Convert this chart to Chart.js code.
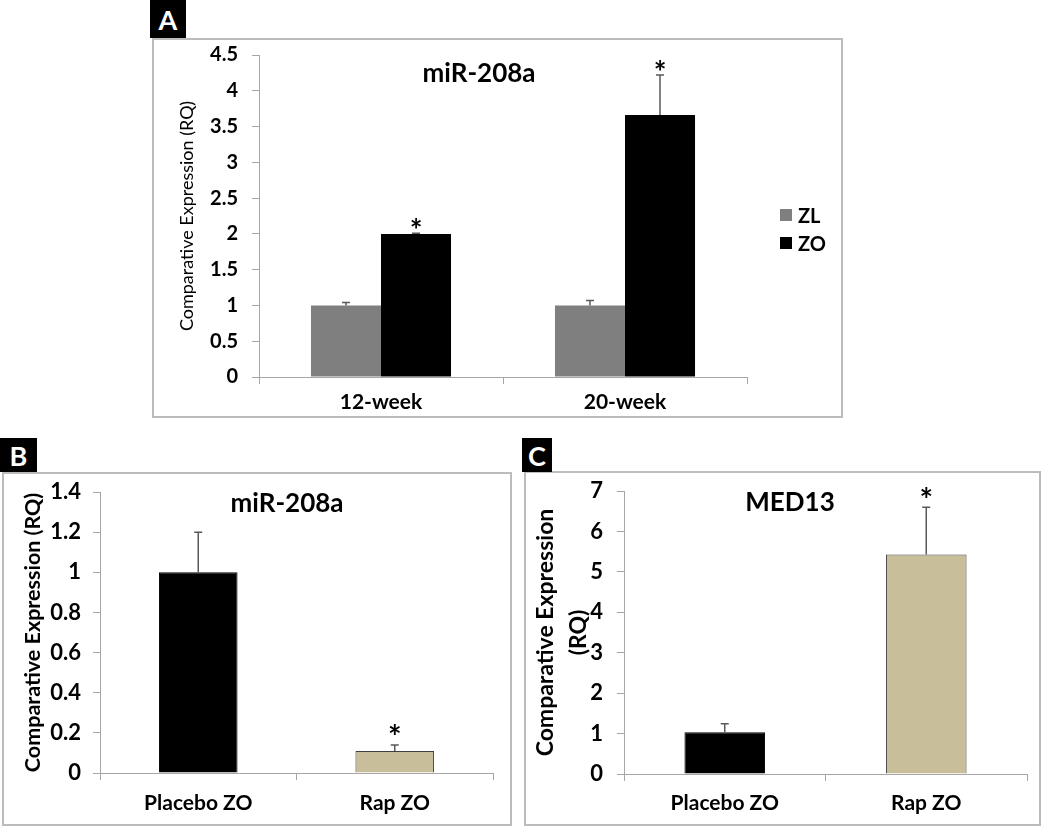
<!DOCTYPE html>
<html>
<head>
<meta charset="utf-8">
<script src="https://cdn.jsdelivr.net/npm/chart.js@4.4.0/dist/chart.umd.min.js"></script>
<style>
body { margin: 0; background: #fff; font-family: Lato, sans-serif; }
.wrap { position: relative; width: 1050px; height: 830px; overflow: hidden; }
.frame { position: absolute; border: 2px solid #bcbcbc; box-sizing: border-box; }
.tag { position: absolute; background: #000; color: #fff; font-weight: bold; font-size: 27px; display: flex; align-items: center; justify-content: center; }
.title { position: absolute; font-weight: bold; font-size: 26px; transform: translate(-50%, -50%); white-space: nowrap; }
canvas { position: absolute; }
.graphLegendBox { position: absolute; }
.graphLegendBox ul { list-style: none; margin: 0; padding: 0; }
.graphLegendBox li { height: 28px; font-weight: bold; font-size: 20px; display: flex; align-items: center; }
.graphLegendBox li span { display: inline-block; width: 12px; height: 12px; margin-right: 6px; }
</style>
</head>
<body>
<div class="wrap">
	<div class="frame" style="left:152px;top:38px;width:691px;height:380px;"></div>
	<div class="frame" style="left:2px;top:472px;width:510px;height:354px;"></div>
	<div class="frame" style="left:524px;top:471px;width:517px;height:355px;"></div>

	<canvas id="chartA" width="691" height="380" style="left:152px;top:38px;"></canvas>
	<canvas id="chartB" width="511" height="353" style="left:2px;top:472px;"></canvas>
	<canvas id="chartC" width="516" height="354" style="left:525px;top:471px;"></canvas>

	<div class="tag" style="left:150px;top:0;width:36px;height:38px;">A</div>
	<div class="tag" style="left:0;top:438px;width:37px;height:34px;">B</div>
	<div class="tag" style="left:522px;top:438px;width:30px;height:34px;">C</div>

	<div class="title" style="left:479px;top:72px;">miR-208a</div>
	<div class="title" style="left:287px;top:502px;">miR-208a</div>
	<div class="title" style="left:790px;top:501px;">MED13</div>

	<div id="legendA" class="graphLegendBox" style="left:780px;top:201px;"></div>
</div>
<script>
// panel A
var weekLabels = ['12-week', '20-week'];
var zlValues = [1.0, 1.0];
var zlErrors = [0.04, 0.07];
var zoValues = [2.0, 3.66];
var zoErrors = [0.01, 0.56];
var zlStars = [false, false];
var zoStars = [true, true];
var ticksA = { min: 0, max: 4.5, step: 0.5 };

// panel B / C
var groupLabels = ['Placebo ZO', 'Rap ZO'];
var mirValues = [1.0, 0.11];
var mirErrors = [0.2, 0.03];
var mirStars = [false, true];
var ticksB = { min: 0, max: 1.4, step: 0.2 };

var medValues = [1.03, 5.43];
var medErrors = [0.21, 1.17];
var medStars = [false, true];
var ticksC = { min: 0, max: 7, step: 1 };

var axisColor = '#a6a6a6';
var errColor = '#595959';
var tanColor = '#c8be9a';

var errorBarPlugin = {
	id: 'errorBars',
	afterDatasetsDraw: function(chart, args, opts) {
		var ctx = chart.ctx;
		var yScale = chart.scales.y;
		var size = opts.starSize || 30;
		chart.data.datasets.forEach(function(ds, di) {
			var meta = chart.getDatasetMeta(di);
			meta.data.forEach(function(bar, i) {
				var top = yScale.getPixelForValue(ds.data[i] + ds.errors[i]);
				ctx.save();
				ctx.strokeStyle = errColor;
				ctx.lineWidth = 1.5;
				ctx.beginPath();
				ctx.moveTo(bar.x, bar.y);
				ctx.lineTo(bar.x, top);
				ctx.moveTo(bar.x - 4, top);
				ctx.lineTo(bar.x + 4, top);
				ctx.stroke();
				if (ds.stars[i]) {
					ctx.fillStyle = '#000';
					ctx.font = 'bold ' + size + 'px Lato';
					ctx.textAlign = 'center';
					ctx.textBaseline = 'alphabetic';
					// asterisk glyph sits high in the em box
					ctx.fillText('*', bar.x, top - (opts.starGap || 10) + size * 0.56);
				}
				ctx.restore();
			});
		});
	}
};

var tickFormat = function(v) {
	return String(+v.toFixed(2));
};

var barChartFn = function(target, o) {
	return new Chart(document.getElementById(target), {
		type: 'bar',
		data: { labels: o.labels, datasets: o.datasets },
		plugins: [errorBarPlugin],
		options: {
			responsive: false,
			animation: false,
			layout: { padding: o.padding },
			plugins: {
				legend: { display: false },
				tooltip: { enabled: false },
				errorBars: { starGap: o.starGap, starSize: o.starSize }
			},
			scales: {
				x: {
					ticks: { color: '#000', font: { family: 'Lato', weight: 'bold', size: o.xFont }, padding: o.xPad },
					grid: { drawOnChartArea: false, tickLength: 7, color: axisColor, offset: true },
					border: { color: axisColor },
					afterFit: function(s) {
						s.height = o.xHeight;
						s.paddingLeft = 0;
						s.paddingRight = 0;
					}
				},
				y: {
					min: o.ticks.min,
					max: o.ticks.max,
					ticks: { stepSize: o.ticks.step, color: '#000', font: { family: 'Lato', weight: 'bold', size: o.yFont }, padding: o.yPad, callback: tickFormat },
					grid: { drawOnChartArea: false, tickLength: 7, color: axisColor },
					border: { color: axisColor },
					title: {
						display: true,
						text: o.yTitle,
						color: '#000',
						font: o.yTitleFont,
						padding: { top: o.yTitlePad, bottom: 0 }
					},
					afterFit: function(s) {
						s.width = o.yWidth;
						s.paddingTop = 0;
						s.paddingBottom = 0;
					}
				}
			}
		}
	});
};

var chartA = barChartFn('chartA', {
	labels: weekLabels,
	datasets: [
		{ label: 'ZL', data: zlValues, errors: zlErrors, stars: zlStars, backgroundColor: '#7f7f7f', categoryPercentage: 0.574, barPercentage: 1 },
		{ label: 'ZO', data: zoValues, errors: zoErrors, stars: zoStars, backgroundColor: '#000000', categoryPercentage: 0.574, barPercentage: 1 }
	],
	ticks: ticksA,
	padding: { left: 0, top: 17, right: 96, bottom: 0 },
	xFont: 21, xPad: 6, xHeight: 41,
	yFont: 20, yPad: 14, yWidth: 107,
	yTitle: 'Comparative Expression (RQ)',
	yTitleFont: { family: 'Lato', size: 18, lineHeight: 1.2 },
	yTitlePad: 24,
	starGap: 9, starSize: 30
});

var chartB = barChartFn('chartB', {
	labels: groupLabels,
	datasets: [
		{ label: 'miR-208a', data: mirValues, errors: mirErrors, stars: mirStars, backgroundColor: ['#000000', tanColor], borderColor: ['#000000', '#404040'], borderWidth: 1, categoryPercentage: 0.4, barPercentage: 1 }
	],
	ticks: ticksB,
	padding: { left: 0, top: 20, right: 20, bottom: 0 },
	xFont: 21, xPad: 11, xHeight: 52,
	yFont: 22, yPad: 12, yWidth: 98,
	yTitle: 'Comparative Expression (RQ)',
	yTitleFont: { family: 'Lato', size: 21.5, weight: 'bold', lineHeight: 1.2 },
	yTitlePad: 18,
	starGap: 14, starSize: 32
});

var chartC = barChartFn('chartC', {
	labels: groupLabels,
	datasets: [
		{ label: 'MED13', data: medValues, errors: medErrors, stars: medStars, backgroundColor: ['#000000', tanColor], borderColor: ['#000000', '#404040'], borderWidth: 1, categoryPercentage: 0.4, barPercentage: 1 }
	],
	ticks: ticksC,
	padding: { left: 0, top: 20, right: 14, bottom: 0 },
	xFont: 21, xPad: 10, xHeight: 51,
	yFont: 22, yPad: 14, yWidth: 99,
	yTitle: ['Comparative Expression', '(RQ)'],
	yTitleFont: { family: 'Lato', size: 23, weight: 'bold', lineHeight: 1.43 },
	yTitlePad: 4.5,
	starGap: 13, starSize: 32
});

// html legend for panel A
var creatLegendFn = function(chartSet, target) {
	var labelItems = chartSet.options.plugins.legend.labels.generateLabels(chartSet);
	var html = '<ul>';
	for (var i = 0; i < labelItems.length; i++) {
		html += '<li><span style="background-color:' + labelItems[i].fillStyle + '"></span>' + labelItems[i].text + '</li>';
	}
	html += '</ul>';
	document.getElementById(target).innerHTML = html;
};
creatLegendFn(chartA, 'legendA');
</script>
</body>
</html>
